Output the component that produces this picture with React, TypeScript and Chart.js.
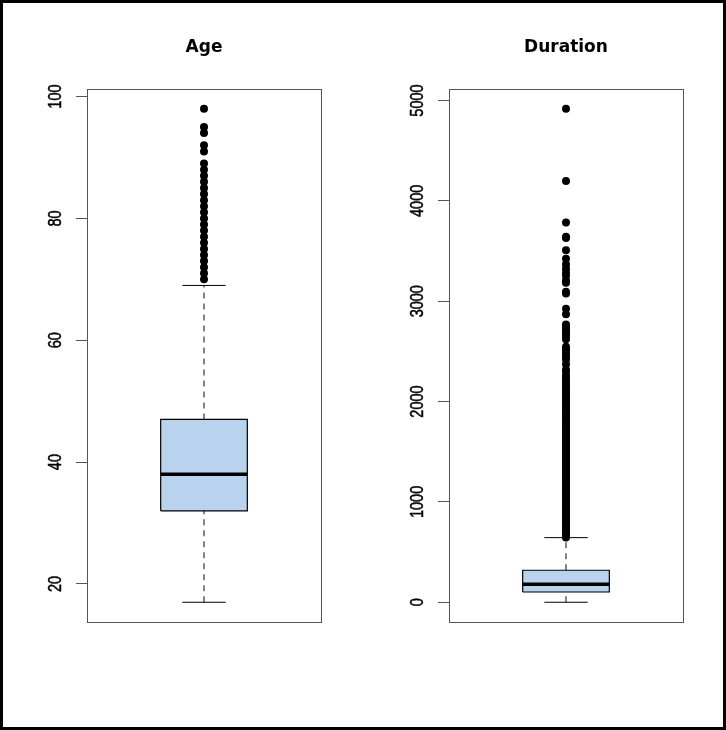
import React, { useEffect, useRef } from "react";
import { Chart, registerables } from "chart.js";

Chart.register(...registerables);

// ---- Data ----
const ageTitle = "Age";
// [lower whisker, Q1, median, Q3, upper whisker]
const ageStats = [17, 32, 38, 47, 69];
const ageOutliers = [
  70, 71, 72, 73, 74, 75, 76, 77, 78, 79, 80, 81, 82, 83, 84, 85, 86, 87, 88, 89,
  91, 92, 94, 95, 98,
];
const ageTicks = [20, 40, 60, 80, 100];

const durationTitle = "Duration";
const durationStats = [0, 102, 180, 319, 644];
const durationOutliers = [
  645, 662, 680, 701, 719, 738, 760, 781, 799, 822, 841, 863, 880, 902, 921, 943,
  962, 980, 1002, 1021, 1043, 1062, 1080, 1101, 1122, 1140, 1161, 1182, 1200, 1223,
  1241, 1262, 1281, 1303, 1320, 1342, 1361, 1380, 1402, 1423, 1441, 1460, 1482, 1503,
  1521, 1540, 1562, 1580, 1603, 1622, 1641, 1663, 1680, 1702, 1721, 1740, 1762, 1781,
  1804, 1820, 1842, 1868, 1882, 1906, 1925, 1946, 1970, 1994, 2015, 2029, 2053, 2078,
  2093, 2122, 2139, 2165, 2187, 2203, 2231, 2260, 2299, 2316, 2372, 2420, 2453, 2462,
  2486, 2516, 2529, 2545, 2621, 2653, 2680, 2692, 2719, 2745, 2769, 2870, 2926, 3076,
  3094, 3183, 3207, 3253, 3284, 3322, 3366, 3422, 3509, 3631, 3643, 3785, 4199, 4918,
];
const durationTicks = [0, 1000, 2000, 3000, 4000, 5000];

// ---- Style ----
const BOX_FILL = "#B9D3EE";
const FRAME = "#555555";
const CENTER = 1;
const HALF_BOX = 0.2;
const HALF_STAPLE = 0.1;

const framePlugin = {
  id: "rFrame",
  afterDraw(chart: any) {
    const { ctx, chartArea: a } = chart;
    ctx.save();
    ctx.strokeStyle = FRAME;
    ctx.lineWidth = 1;
    ctx.strokeRect(a.left + 0.5, a.top + 0.5, a.right - a.left, a.bottom - a.top);
    ctx.restore();
  },
};

const tickLabelPlugin = {
  id: "rTickLabels",
  afterDraw(chart: any) {
    const scale = chart.scales.y;
    const { ctx } = chart;
    ctx.save();
    ctx.fillStyle = "#000";
    ctx.strokeStyle = "#000";
    ctx.lineWidth = 0.4;
    ctx.font = '14.5px "Liberation Sans", Arial, sans-serif';
    ctx.textAlign = "center";
    ctx.textBaseline = "middle";
    const x = chart.chartArea.left - 31.5;
    scale.ticks.forEach((t: any) => {
      const y = scale.getPixelForValue(t.value);
      ctx.save();
      ctx.translate(x, y);
      ctx.scale(1.3, 1);
      ctx.rotate(-Math.PI / 2);
      ctx.fillText(String(t.value), 0, 0);
      ctx.strokeText(String(t.value), 0, 0);
      ctx.restore();
    });
    ctx.restore();
  },
};

function makeConfig(
  title: string,
  stats: number[],
  outliers: number[],
  ticks: number[],
  padLeft: number,
  padRight: number
): any {
  const [lo, q1, med, q3, hi] = stats;
  const all = [lo, hi, ...outliers];
  const dMin = Math.min(...all);
  const dMax = Math.max(...all);
  const ext = 0.04 * (dMax - dMin);
  const line = (extra: any) => ({
    type: "line",
    pointRadius: 0,
    tension: 0,
    fill: false,
    borderCapStyle: "butt",
    ...extra,
  });
  return {
    type: "line",
    data: {
      datasets: [
        line({
          data: [
            { x: CENTER - HALF_BOX, y: q3 },
            { x: CENTER + HALF_BOX, y: q3 },
          ],
          borderWidth: 0,
          borderColor: "rgba(0,0,0,0)",
          backgroundColor: BOX_FILL,
          fill: { value: q1 },
          order: 6,
        }),
        line({
          data: [
            { x: CENTER, y: q3 },
            { x: CENTER, y: hi },
          ],
          borderColor: "#333",
          borderWidth: 1.2,
          borderDash: [6, 5],
          order: 5,
        }),
        line({
          data: [
            { x: CENTER, y: lo },
            { x: CENTER, y: q1 },
          ],
          borderColor: "#333",
          borderWidth: 1.2,
          borderDash: [6, 5],
          order: 5,
        }),
        line({
          data: [
            { x: CENTER - HALF_STAPLE, y: hi },
            { x: CENTER + HALF_STAPLE, y: hi },
          ],
          borderColor: "#000",
          borderWidth: 1,
          order: 4,
        }),
        line({
          data: [
            { x: CENTER - HALF_STAPLE, y: lo },
            { x: CENTER + HALF_STAPLE, y: lo },
          ],
          borderColor: "#000",
          borderWidth: 1,
          order: 4,
        }),
        line({
          data: [
            { x: CENTER - HALF_BOX, y: q1 },
            { x: CENTER + HALF_BOX, y: q1 },
            { x: CENTER + HALF_BOX, y: q3 },
            { x: CENTER - HALF_BOX, y: q3 },
            { x: CENTER - HALF_BOX, y: q1 },
          ],
          borderColor: "#000",
          borderWidth: 1.2,
          order: 3,
        }),
        line({
          data: [
            { x: CENTER - HALF_BOX, y: med },
            { x: CENTER + HALF_BOX, y: med },
          ],
          borderColor: "#000",
          borderWidth: 3.5,
          order: 2,
        }),
        {
          type: "line",
          showLine: false,
          data: outliers.map((v) => ({ x: CENTER, y: v })),
          pointRadius: 4,
          pointBackgroundColor: "#000",
          pointBorderWidth: 0,
          pointBorderColor: "#000",
          order: 1,
        },
      ],
    },
    options: {
      responsive: false,
      animation: false,
      events: [],
      layout: { padding: { left: padLeft, right: padRight, top: 0, bottom: 105 } },
      plugins: {
        legend: { display: false },
        tooltip: { enabled: false },
        title: {
          display: true,
          text: title,
          fullSize: false,
          color: "#000",
          font: { family: '"DejaVu Sans", sans-serif', size: 17, weight: "bold", lineHeight: 1.2 },
          padding: { top: 34.3, bottom: 31.3 },
        },
      },
      scales: {
        x: {
          type: "linear",
          display: false,
          min: CENTER - 0.54,
          max: CENTER + 0.54,
        },
        y: {
          type: "linear",
          min: dMin - ext,
          max: dMax + ext,
          afterBuildTicks: (s: any) => {
            s.ticks = ticks.map((v) => ({ value: v }));
          },
          afterFit: (s: any) => {
            s.width = 40;
          },
          border: { display: false },
          grid: {
            display: true,
            drawOnChartArea: false,
            drawTicks: true,
            tickLength: 11,
            color: FRAME,
            lineWidth: 1,
          },
          ticks: { display: false },
        },
      },
    },
    plugins: [framePlugin, tickLabelPlugin],
  };
}

function BoxChart(props: {
  title: string;
  stats: number[];
  outliers: number[];
  ticks: number[];
  padLeft: number;
  padRight: number;
  left: number;
}) {
  const ref = useRef<HTMLCanvasElement | null>(null);
  useEffect(() => {
    if (!ref.current) return;
    const chart = new Chart(
      ref.current,
      makeConfig(props.title, props.stats, props.outliers, props.ticks, props.padLeft, props.padRight)
    );
    return () => chart.destroy();
  }, []);
  return (
    <canvas
      ref={ref}
      width={360}
      height={724}
      style={{ position: "absolute", left: props.left, top: 0, width: 360, height: 724, display: "block" }}
    />
  );
}

export default function App() {
  return (
    <div
      style={{
        position: "fixed",
        left: 0,
        top: 0,
        width: 726,
        height: 730,
        boxSizing: "border-box",
        border: "3px solid #000",
        background: "#fff",
        overflow: "hidden",
      }}
    >
      <BoxChart
        title={ageTitle}
        stats={ageStats}
        outliers={ageOutliers}
        ticks={ageTicks}
        padLeft={44}
        padRight={42}
        left={0}
      />
      <BoxChart
        title={durationTitle}
        stats={durationStats}
        outliers={durationOutliers}
        ticks={durationTicks}
        padLeft={46}
        padRight={40}
        left={360}
      />
    </div>
  );
}
